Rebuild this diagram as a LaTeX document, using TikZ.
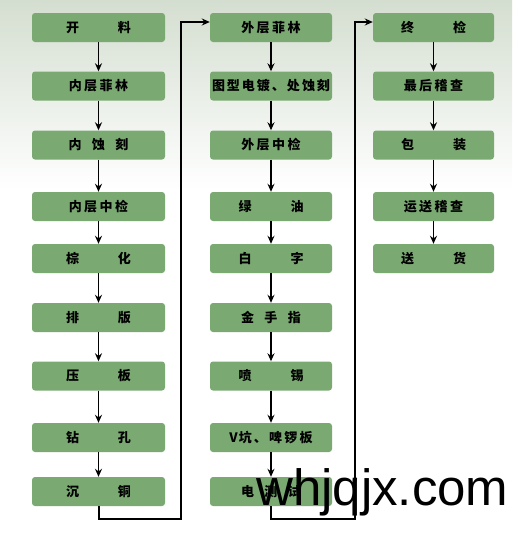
\documentclass[tikz,border=0pt]{standalone}
\usepackage{fontspec}
\usetikzlibrary{arrows.meta}
\newfontfamily\cjk{Noto Sans CJK SC}
\newfontfamily\wmfont{Liberation Sans}
\definecolor{boxgreen}{RGB}{122,170,114}
\definecolor{bgtop}{RGB}{212,222,208}
\newcommand\twoc[2]{#1\hspace{39pt}#2}
\newcommand\thrc[3]{#1\hspace{10.5pt}#2\hspace{10.5pt}#3}
\newcommand\fourc[4]{#1\hspace{2.5pt}#2\hspace{2.5pt}#3\hspace{2.5pt}#4}
\tikzset{
  x=1pt, y=-1pt,
  procbox/.style={rectangle, rounded corners=3pt, fill=boxgreen, inner sep=0pt,
    minimum height=29pt, text=black, font=\cjk\bfseries\fontsize{13}{13}\selectfont},
  colA/.style={procbox, minimum width=133pt},
  colB/.style={procbox, minimum width=122pt},
  colC/.style={procbox, minimum width=121pt},
  flow/.style={draw=black, line width=1.4pt, -{Stealth[length=8pt,width=7pt]}},
  link/.style={draw=black, line width=2pt, -{Stealth[length=8pt,width=7pt]}},
}
\begin{document}
\begin{tikzpicture}
\useasboundingbox (0,0) rectangle (512,536);
\fill[white] (0,0) rectangle (512,536);
\shade[top color=bgtop, bottom color=white] (0,0) rectangle (512,190);
% column 1
\node[colA] (a1) at (98.5,27.5) {\twoc{开}{料}};
\node[colA] (a2) at (98.5,86) {\fourc{内}{层}{菲}{林}};
\node[colA] (a3) at (98.5,145) {\thrc{内}{蚀}{刻}};
\node[colA] (a4) at (98.5,206.5) {\fourc{内}{层}{中}{检}};
\node[colA] (a5) at (98.5,258.5) {\twoc{棕}{化}};
\node[colA] (a6) at (98.5,317.5) {\twoc{排}{版}};
\node[colA] (a7) at (98.5,376) {\twoc{压}{板}};
\node[colA] (a8) at (98.5,437.5) {\twoc{钻}{孔}};
\node[colA] (a9) at (98.5,491.5) {\twoc{沉}{铜}};
% column 2
\node[colB] (b1) at (271,27.5) {\fourc{外}{层}{菲}{林}};
\node[colB] (b2) at (271,86) {图\hspace{2pt}型\hspace{2pt}电\hspace{2pt}镀\hspace{2pt}、\hspace{2pt}处\hspace{2pt}蚀\hspace{2pt}刻};
\node[colB] (b3) at (271,145) {\fourc{外}{层}{中}{检}};
\node[colB] (b4) at (271,206.5) {\twoc{绿}{油}};
\node[colB] (b5) at (271,258.5) {\twoc{白}{字}};
\node[colB] (b6) at (271,317.5) {\thrc{金}{手}{指}};
\node[colB] (b7) at (271,376) {\twoc{喷}{锡}};
\node[colB] (b8) at (271,437.5) {V\hspace{1pt}坑\hspace{2.2pt}、\hspace{2.2pt}啤\hspace{2.2pt}锣\hspace{2.2pt}板};
\node[colB] (b9) at (271,491.5) {\thrc{电}{测}{试}};
% column 3
\node[colC] (c1) at (433.5,27.5) {\twoc{终}{检}};
\node[colC] (c2) at (433.5,86) {\fourc{最}{后}{稽}{查}};
\node[colC] (c3) at (433.5,145) {\twoc{包}{装}};
\node[colC] (c4) at (433.5,206.5) {\fourc{运}{送}{稽}{查}};
\node[colC] (c5) at (433.5,258.5) {\twoc{送}{货}};
% vertical flows
\foreach \p/\q in {a1/a2,a2/a3,a3/a4,a4/a5,a5/a6,a6/a7,a7/a8,a8/a9,
                   b1/b2,b2/b3,b3/b4,b4/b5,b5/b6,b6/b7,b7/b8,b8/b9,
                   c1/c2,c2/c3,c3/c4,c4/c5}
  \draw[flow] (\p.south) -- (\q.north);
% column links
\coordinate (la) at (181,519);
\coordinate (ua) at (181,22);
\draw[link] (a9.south) |- (la) -- (ua) -- (ua -| b1.west);
\coordinate (lb) at (355,519);
\coordinate (ub) at (355,22);
\draw[link] (b9.south) |- (lb) -- (ub) -- (ub -| c1.west);
% watermark
\node[anchor=base west, inner sep=0pt, font=\wmfont\fontsize{51}{51}\selectfont, text=black] (wm) at (256,505) {whjqjx.com};
\end{tikzpicture}
\end{document}
